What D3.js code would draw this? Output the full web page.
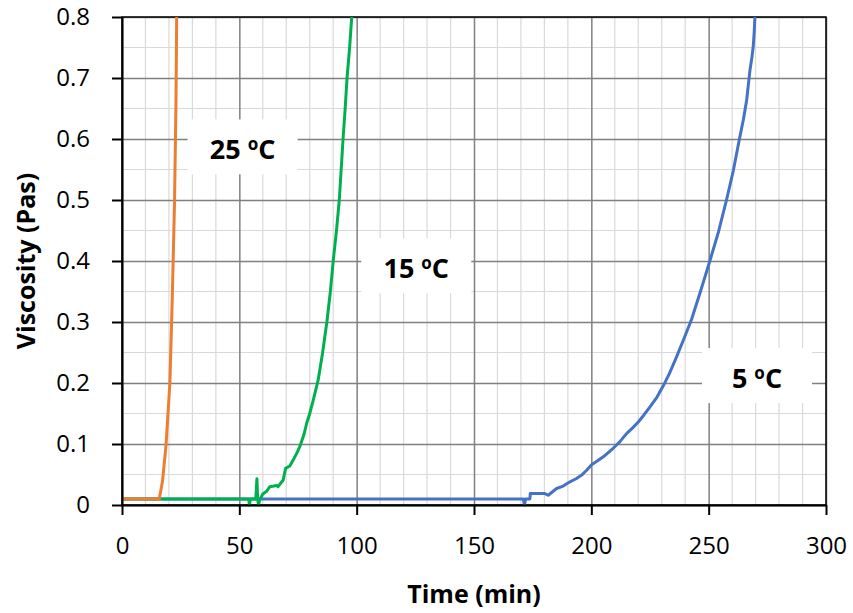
<!DOCTYPE html>
<html lang="en">
<head>
  <meta charset="UTF-8">
  <title>Viscosity vs Time</title>
  <script src="https://d3js.org/d3.v7.min.js"></script>
  <style>
    body { margin: 0; background: #fff; }
    svg { display: block; font-family: "Open Sans", Arial, sans-serif; }
    .tick-label { font-size: 24px; fill: #000; }
    .title { font-size: 25px; font-weight: bold; fill: #000; }
    .note { font-size: 27px; font-weight: bold; fill: #000; }
  </style>
</head>
<body>
  <svg id="chart"></svg>
  <script>
    // data
    const t25 = [0, 15.9, 17.3, 18.8, 20.4, 21.4, 22.4, 23.0, 23.3];
    const v25 = [0.01, 0.01, 0.04, 0.1, 0.2, 0.336, 0.5, 0.66, 0.8];

    const t15 = [0, 54, 54.3, 54.7, 57, 57.5, 57.8, 58.2, 58.7, 59.2, 60, 61.5, 63, 66, 66.5, 68.7, 69.7, 71.5, 73, 74.5, 75.8, 77.5, 78.7, 80, 81.5, 83.6, 85.5, 87.3, 88.8, 90, 91.4, 92.6, 94.2, 95.1, 95.9, 97.0, 97.9];
    const v15 = [0.01, 0.01, 0, 0.01, 0.01, 0.043, 0.01, 0, 0.01, 0.012, 0.018, 0.022, 0.03, 0.032, 0.03, 0.041, 0.06, 0.064, 0.074, 0.085, 0.096, 0.115, 0.134, 0.15, 0.172, 0.205, 0.25, 0.3, 0.35, 0.4, 0.45, 0.5, 0.6, 0.65, 0.7, 0.75, 0.8];

    const t5 = [0, 171, 171.5, 172, 173.8, 174, 180, 181.6, 185.2, 188, 190.9, 193.5, 195.9, 198, 200.1, 202.5, 205.1, 209.3, 212, 215, 217.5, 220, 222.5, 225, 228, 230.6, 233.2, 236, 239.2, 242.7, 246.5, 250.5, 254.2, 257.6, 260.5, 263, 264.8, 266.2, 267.6, 268.4, 269, 269.4, 269.7];
    const v5 = [0.01, 0.01, 0.0, 0.01, 0.01, 0.019, 0.019, 0.016, 0.027, 0.031, 0.038, 0.043, 0.049, 0.057, 0.066, 0.072, 0.079, 0.093, 0.103, 0.117, 0.126, 0.136, 0.148, 0.161, 0.177, 0.195, 0.215, 0.24, 0.27, 0.304, 0.35, 0.4, 0.448, 0.5, 0.548, 0.598, 0.632, 0.664, 0.713, 0.733, 0.752, 0.775, 0.8];

    const xTicks = [0, 50, 100, 150, 200, 250, 300];
    const yTicks = [0, 0.1, 0.2, 0.3, 0.4, 0.5, 0.6, 0.7, 0.8];

    const series = [
      { name: "5", t: t5, v: v5, color: "#4472C4", label: [270.6, 0.208] },
      { name: "15", t: t15, v: v15, color: "#00B050", label: [125.4, 0.388] },
      { name: "25", t: t25, v: v25, color: "#ED7D31", label: [51.4, 0.583] }
    ];

    const W = 853, H = 613;
    const margin = { top: 17, right: 27, bottom: 108, left: 122 };
    const width = W - margin.left - margin.right;
    const height = H - margin.top - margin.bottom;

    const svg = d3.select("#chart").attr("width", W).attr("height", H);
    const g = svg.append("g").attr("transform", `translate(${margin.left},${margin.top})`);

    const x = d3.scaleLinear().domain([0, 300]).range([0, width]);
    const y = d3.scaleLinear().domain([0, 0.8]).range([height, 0]);

    // minor grid
    g.append("g")
      .selectAll("line")
      .data(d3.range(10, 300, 10).filter(d => d % 50 !== 0))
      .enter().append("line")
      .attr("x1", d => x(d)).attr("x2", d => x(d))
      .attr("y1", 0).attr("y2", height)
      .attr("stroke", "#d9d9d9").attr("stroke-width", 1.2);
    g.append("g")
      .selectAll("line")
      .data(d3.range(0.05, 0.8, 0.1))
      .enter().append("line")
      .attr("y1", d => y(d)).attr("y2", d => y(d))
      .attr("x1", 0).attr("x2", width)
      .attr("stroke", "#d9d9d9").attr("stroke-width", 1.2);

    // major grid
    g.append("g")
      .call(d3.axisBottom(x).tickValues(xTicks).tickSize(-height).tickFormat(""))
      .attr("transform", `translate(0,${height})`)
      .call(a => a.select(".domain").remove())
      .selectAll("line").attr("stroke", "#808080").attr("stroke-width", 1.5);
    g.append("g")
      .call(d3.axisLeft(y).tickValues(yTicks).tickSize(-width).tickFormat(""))
      .call(a => a.select(".domain").remove())
      .selectAll("line").attr("stroke", "#808080").attr("stroke-width", 1.5);

    // frame
    g.append("rect")
      .attr("width", width).attr("height", height)
      .attr("fill", "none").attr("stroke", "#000").attr("stroke-width", 1.5);

    // curve labels with white boxes (under the curves)
    series.forEach(s => {
      const cx = x(s.label[0]), cy = y(s.label[1]);
      g.append("rect")
        .attr("x", cx - 55).attr("y", cy - 30)
        .attr("width", 110).attr("height", 55)
        .attr("fill", "#fff");
      const txt = g.append("text")
        .attr("class", "note")
        .attr("x", cx).attr("y", cy + 10)
        .attr("text-anchor", "middle");
      txt.append("tspan").text(s.name + " ");
      txt.append("tspan").attr("dy", -9).attr("font-size", 17).text("o");
      txt.append("tspan").attr("dy", 9).text("C");
    });

    // curves
    g.append("clipPath").attr("id", "clip")
      .append("rect").attr("x", 0).attr("y", -2).attr("width", width).attr("height", height + 4);

    const line = d3.line().x(d => x(d[0])).y(d => y(d[1]));
    series.forEach(s => {
      g.append("path")
        .datum(s.t.map((t, i) => [t, s.v[i]]))
        .attr("clip-path", "url(#clip)")
        .attr("d", line)
        .attr("fill", "none")
        .attr("stroke", s.color)
        .attr("stroke-width", 3)
        .attr("stroke-linejoin", "round");
    });

    // axes
    const xAxis = g.append("g")
      .attr("transform", `translate(0,${height})`)
      .call(d3.axisBottom(x).tickValues(xTicks).tickSize(10).tickSizeOuter(0).tickPadding(22));
    xAxis.select(".domain").attr("stroke", "#000").attr("stroke-width", 2);
    xAxis.selectAll(".tick line").attr("stroke", "#000").attr("stroke-width", 2);
    xAxis.selectAll("text").attr("class", "tick-label");

    const yAxis = g.append("g")
      .call(d3.axisLeft(y).tickValues(yTicks).tickFormat(d3.format("~g")).tickSize(10).tickSizeOuter(0).tickPadding(22));
    yAxis.select(".domain").attr("stroke", "#000").attr("stroke-width", 2);
    yAxis.selectAll(".tick line").attr("stroke", "#000").attr("stroke-width", 2);
    yAxis.selectAll("text").attr("class", "tick-label");
    xAxis.attr("font-family", null).attr("font-size", null);
    yAxis.attr("font-family", null).attr("font-size", null);

    // titles
    svg.append("text")
      .attr("class", "title")
      .attr("x", margin.left + width / 2).attr("y", 603)
      .attr("text-anchor", "middle")
      .text("Time (min)");
    svg.append("text")
      .attr("class", "title")
      .attr("transform", `translate(35,${margin.top + height / 2}) rotate(-90)`)
      .attr("text-anchor", "middle")
      .text("Viscosity (Pas)");
  </script>
</body>
</html>
